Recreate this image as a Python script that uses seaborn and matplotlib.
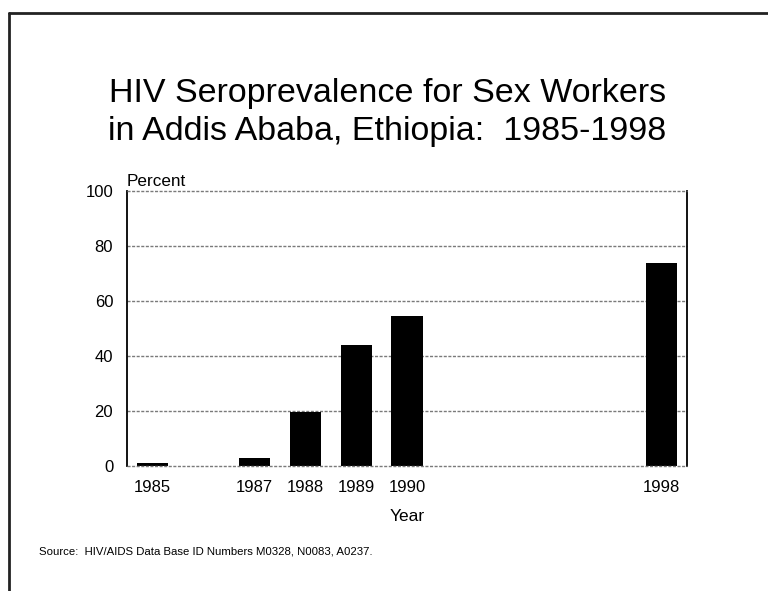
import matplotlib
matplotlib.use("Agg")
import matplotlib.pyplot as plt
import seaborn as sns
import pandas as pd

# data
years = ["1985", "1987", "1988", "1989", "1990", "1998"]
percent = [1, 3, 19.7, 44, 54.5, 73.8]

# category slots on the x axis (blank slots between survey years)
slots = ["1985", "1986", "1987", "1988", "1989", "1990",
         "1991", "1992", "1993", "1994", "1998"]
yticks = [0, 20, 40, 60, 80, 100]

title = "HIV Seroprevalence for Sex Workers\nin Addis Ababa, Ethiopia:  1985-1998"
source = "Source:  HIV/AIDS Data Base ID Numbers M0328, N0083, A0237."

sns.set_theme(style="white")
plt.rcParams["font.family"] = ["Liberation Sans", "DejaVu Sans"]
plt.rcParams["text.color"] = "black"
plt.rcParams["xtick.color"] = "black"
plt.rcParams["ytick.color"] = "black"
plt.rcParams["axes.labelcolor"] = "black"

df = pd.DataFrame({"Year": years, "Percent": percent})

fig = plt.figure(figsize=(7.68, 5.91), dpi=100)
ax = fig.add_axes([0.1654, 0.2115, 0.7291, 0.4653])

sns.barplot(data=df, x="Year", y="Percent", order=slots, color="black",
            width=0.61, saturation=1, edgecolor="none", ax=ax, zorder=3)

ax.set_ylim(0, 100)
ax.set_xlim(-0.5, len(slots) - 0.5)
ax.set_yticks(yticks)
ax.set_yticklabels([str(v) for v in yticks], fontsize=12)
ax.set_xticks(range(len(slots)))
ax.set_xticklabels([s if s in years else "" for s in slots], fontsize=12)
ax.tick_params(axis="x", length=0, pad=10)
ax.tick_params(axis="y", length=0, pad=10)

for v in yticks:
    ax.axhline(v, color="#7a7a7a", linestyle=(0, (2.2, 1.1)), linewidth=1.0,
               zorder=4 if v in (0, 100) else 1, clip_on=False)

for side in ["top", "bottom"]:
    ax.spines[side].set_visible(False)
for side in ["left", "right"]:
    ax.spines[side].set_color("black")
    ax.spines[side].set_linewidth(1.3)

ax.set_ylabel("")
ax.set_xlabel("Year", fontsize=12.5, labelpad=10)
ax.text(0.0, 1.008, "Percent", transform=ax.transAxes, fontsize=12.3,
        ha="left", va="bottom")

fig.text(0.504, 0.809, title, ha="center", va="center", fontsize=24.5,
         linespacing=1.3)
fig.text(0.051, 0.066, source, ha="left", va="center", fontsize=8.2)

# frame lines along the left and top edges of the page
fig.add_artist(plt.Line2D([0.0115, 0.0115], [0.0, 0.9775], color="#222222",
                          linewidth=2, transform=fig.transFigure))
fig.add_artist(plt.Line2D([0.0115, 1.0], [0.9775, 0.9775], color="#222222",
                          linewidth=2, transform=fig.transFigure))

fig.savefig("out.png", dpi=100)
